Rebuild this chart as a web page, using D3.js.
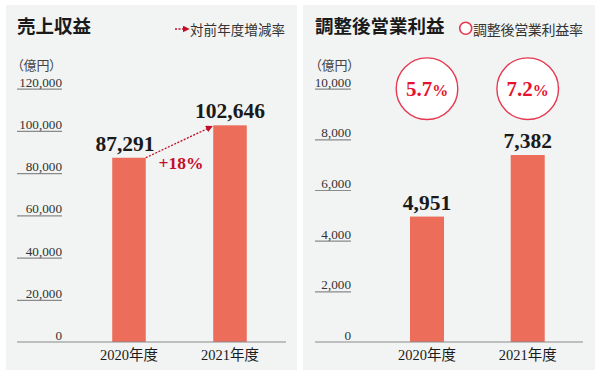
<!DOCTYPE html>
<html>
<head>
<meta charset="utf-8">
<script src="https://cdn.jsdelivr.net/npm/d3@7"></script>
<style>
  html, body { margin: 0; padding: 0; background: #ffffff; }
  svg { display: block; }
  .serif { font-family: "Liberation Serif", "Noto Sans CJK JP", serif; }
  .cjk { font-family: "Noto Sans CJK JP", sans-serif; }
</style>
</head>
<body>
<svg id="chart" width="600" height="376"></svg>
<script>
// ---- data ----
const categories = ["2020年度", "2021年度"];
const revenue = [87291, 102646];
const operatingProfit = [4951, 7382];
const marginLabels = ["5.7%", "7.2%"];
const growthLabel = "+18%";
const revenueTicks = [0, 20000, 40000, 60000, 80000, 100000, 120000];
const profitTicks = [0, 2000, 4000, 6000, 8000, 10000];
const titles = ["売上収益", "調整後営業利益"];
const legends = ["対前年度増減率", "調整後営業利益率"];
const unitLabel = "（億円）";

// ---- styles ----
const BG = "#f2f3f3", BAR = "#ec6d5a", RED = "#c40e28", CRED = "#e63850", TXT = "#1a1a1a", AX = "#8a8a8a";

const svg = d3.select("#chart");
const fmt = d3.format(",");

svg.append("defs").append("marker")
  .attr("id", "arr").attr("viewBox", "0 0 10 10").attr("refX", 9).attr("refY", 5)
  .attr("markerWidth", 7).attr("markerHeight", 7).attr("markerUnits", "userSpaceOnUse")
  .attr("orient", "auto")
  .append("path").attr("d", "M0,0L10,5L0,10Z").attr("fill", RED);

function panel(cfg) {
  const g = svg.append("g");
  g.append("rect").attr("x", cfg.px).attr("y", 5).attr("width", cfg.pw).attr("height", 365).attr("fill", BG);

  // title
  g.append("text").attr("class", "cjk").attr("x", cfg.ax0).attr("y", 33)
    .attr("font-size", 18.5).attr("font-weight", 700).attr("fill", TXT).text(cfg.title);

  // unit
  g.append("text").attr("class", "cjk").attr("x", cfg.ax0).attr("y", 70)
    .attr("font-size", 13).attr("fill", "#444").style("font-feature-settings", '"palt"').text(unitLabel);

  const y = d3.scaleLinear().domain([0, cfg.max]).range([342, 88.7]);
  const x = d3.scaleBand().domain(categories)
    .range([cfg.c0 - cfg.step / 2, cfg.c1 + cfg.step / 2])
    .paddingInner(cfg.pi).paddingOuter(cfg.pi / 2);

  // y axis (underline ticks with labels above)
  const axis = d3.axisLeft(y).tickValues(cfg.ticks).tickFormat(fmt).tickSize(cfg.tickLen).tickPadding(0);
  const ag = g.append("g").attr("transform", `translate(${cfg.ax0 + cfg.tickLen},0)`).call(axis);
  ag.select(".domain").remove();
  ag.selectAll(".tick line").attr("stroke", AX).attr("stroke-width", 1.2);
  ag.selectAll(".tick text").attr("class", "serif").attr("x", 0).attr("dy", -2.5)
    .attr("font-size", 13.2).attr("fill", "#333").attr("text-anchor", "end");
  ag.selectAll(".tick").filter(d => d === 0).select("line").remove();

  // bars
  g.selectAll("rect.bar").data(cfg.values).join("rect").attr("class", "bar")
    .attr("x", (d, i) => x(categories[i])).attr("width", x.bandwidth())
    .attr("y", d => y(d)).attr("height", d => y(0) - y(d)).attr("fill", BAR);

  // baseline
  g.append("line").attr("x1", cfg.ax0).attr("x2", cfg.axEnd).attr("y1", y(0)).attr("y2", y(0))
    .attr("stroke", AX).attr("stroke-width", 1.2);

  // value labels
  g.selectAll("text.val").data(cfg.values).join("text").attr("class", "val serif")
    .attr("x", (d, i) => x(categories[i]) + x.bandwidth() / 2 + (cfg.valShift ? cfg.valShift[i] : 0))
    .attr("y", d => y(d) - 7).attr("text-anchor", "middle")
    .attr("font-size", 21.5).attr("font-weight", 700).attr("fill", TXT).text(d => fmt(d));

  // category labels
  g.selectAll("text.cat").data(categories).join("text").attr("class", "cat serif")
    .attr("x", d => x(d) + x.bandwidth() / 2).attr("y", 360).attr("text-anchor", "middle")
    .attr("font-size", 14.5).attr("fill", TXT).text(d => d);

  return { g, x, y };
}

// ---- left panel ----
const L = panel({ px: 6, pw: 291, ax0: 17, axEnd: 286, tickLen: 45, max: 120000, ticks: revenueTicks,
  c0: 129, c1: 230, step: 101, pi: 0.668, values: revenue, title: titles[0], valShift: [-4, 0] });

// growth arrow
{
  const x = L.x, y = L.y;
  const x1 = x(categories[0]) + x.bandwidth(), y1 = y(revenue[0]);
  const x2 = x(categories[1]) - 1, y2 = y(revenue[1]) + 1;
  L.g.append("line").attr("x1", x1).attr("y1", y1).attr("x2", x2).attr("y2", y2)
    .attr("stroke", RED).attr("stroke-width", 1.3).attr("stroke-dasharray", "2,1.5")
    .attr("marker-end", "url(#arr)");
  L.g.append("text").attr("class", "serif").attr("x", (x1 + x2) / 2 + 2).attr("y", 169)
    .attr("text-anchor", "middle").attr("font-size", 17.5).attr("font-weight", 700).attr("fill", RED)
    .text(growthLabel);
  // legend
  L.g.append("line").attr("x1", 175).attr("x2", 189).attr("y1", 29).attr("y2", 29)
    .attr("stroke", RED).attr("stroke-width", 1.3).attr("stroke-dasharray", "2,1.5")
    .attr("marker-end", "url(#arr)");
  L.g.append("text").attr("class", "cjk").attr("x", 190).attr("y", 34.5)
    .attr("font-size", 13.5).attr("fill", "#333").attr("textLength", 95).attr("lengthAdjust", "spacing")
    .text(legends[0]);
}

// ---- right panel ----
const R = panel({ px: 303, pw: 292, ax0: 315, axEnd: 583, tickLen: 36, max: 10000, ticks: profitTicks,
  c0: 427, c1: 527.7, step: 100.7, pi: 0.662, values: operatingProfit, title: titles[1] });

{
  const x = R.x;
  const cg = R.g.selectAll("g.margin").data(marginLabels).join("g").attr("class", "margin")
    .attr("transform", (d, i) => `translate(${x(categories[i]) + x.bandwidth() / 2},88.7)`);
  cg.append("circle").attr("r", 30.8).attr("fill", "#ffffff").attr("stroke", CRED).attr("stroke-width", 1.4);
  const t = cg.append("text").attr("class", "serif").attr("y", 7).attr("text-anchor", "middle")
    .attr("font-weight", 700).attr("fill", "#e5132f");
  t.append("tspan").attr("font-size", 21).text(d => d.replace("%", ""));
  t.append("tspan").attr("font-size", 16).text("%");

  // legend
  R.g.append("circle").attr("cx", 465.7).attr("cy", 28.3).attr("r", 6)
    .attr("fill", "#ffffff").attr("stroke", CRED).attr("stroke-width", 1.6);
  R.g.append("text").attr("class", "cjk").attr("x", 473).attr("y", 34.5)
    .attr("font-size", 14).attr("fill", "#333").attr("textLength", 110).attr("lengthAdjust", "spacing")
    .text(legends[1]);
}
</script>
</body>
</html>
